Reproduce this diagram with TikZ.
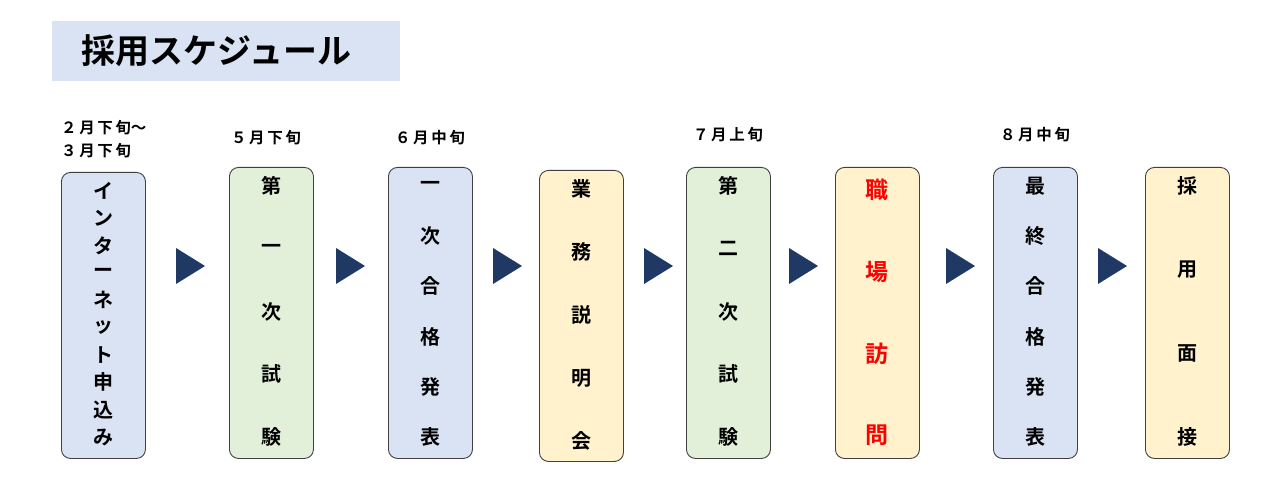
\documentclass[tikz,border=0pt]{standalone}
\usepackage{fontspec}
\setmainfont{Noto Sans CJK JP}[BoldFont={* Bold}]
\definecolor{cblue}{HTML}{DAE3F3}
\definecolor{cgreen}{HTML}{E2F0D9}
\definecolor{cyel}{HTML}{FFF2CC}
\definecolor{navy}{HTML}{1F3864}
\definecolor{bord}{HTML}{404040}
\begin{document}
\begin{tikzpicture}[x=1pt,y=-1pt,
  box/.style={draw=bord,line width=0.9pt,rounded corners=9pt,minimum width=84pt,anchor=north west,inner sep=0pt},
  date/.style={font=\bfseries\fontsize{15.5}{23}\selectfont,align=left,inner sep=0pt},
  ch/.style={font=\bfseries\fontsize{20}{20}\selectfont,inner sep=0pt}]
\useasboundingbox (0,0) rectangle (1280,489);
\node[fill=cblue,minimum width=348pt,minimum height=60pt,anchor=north west,inner sep=0pt] (title) at (52,21) {};
\node[font=\bfseries\fontsize{34}{34}\selectfont,anchor=west] at (78,51) {採用スケジュール};
\newcommand\stepcol[8]{% name,x,y,h,color,first,last,chars
  \node[box,fill=#5,minimum height=#4pt] (#1) at (#2,#3) {};
  \foreach \c [count=\i] in {#8} {\xdef\nch{\i}}
  \foreach \c [count=\i] in {#8} {
    \pgfmathsetmacro\yy{#6+(#7-#6)*(\i-1)/(\nch-1)}
    \node[ch] at (#2+42,\yy) {\c};}
}
\stepcol{b1}{61}{172}{286}{cblue}{191}{437}{イ,ン,タ,ー,ネ,ッ,ト,申,込,み}
\stepcol{b2}{229}{167}{291}{cgreen}{186}{437}{第,一,次,試,験}
\stepcol{b3}{388}{167}{291}{cblue}{186}{437}{一,次,合,格,発,表}
\stepcol{b4}{539}{170}{291}{cyel}{189}{441}{業,務,説,明,会}
\stepcol{b5}{686}{167}{291}{cgreen}{186}{437}{第,二,次,試,験}
\node[box,fill=cyel,minimum height=291pt] (b6) at (835,167) {};
\foreach \c [count=\i] in {職,場,訪,問}
  \node[ch,font=\bfseries\fontsize{23}{23}\selectfont,text=red] at (877,{190+(\i-1)*81.7}) {\c};
\stepcol{b7}{993}{167}{291}{cblue}{186}{437}{最,終,合,格,発,表}
\stepcol{b8}{1145}{167}{291}{cyel}{186}{437}{採,用,面,接}
\foreach \x in {190,350,507,658,803,960,1112}
  \fill[navy] (\x-14,248) -- (\x+15,266) -- (\x-14,284) -- cycle;
\node[date,anchor=west] (d1) at (61,139) {２\,月\,下\,旬〜\\３\,月\,下\,旬};
\node[date] (d2) at (266,138) {５\,月\,下\,旬};
\node[date] (d3) at (430,138) {６\,月\,中\,旬};
\node[date] (d5) at (728,135) {７\,月\,上\,旬};
\node[date] (d7) at (1035,135) {８\,月\,中\,旬};
\end{tikzpicture}
\end{document}
